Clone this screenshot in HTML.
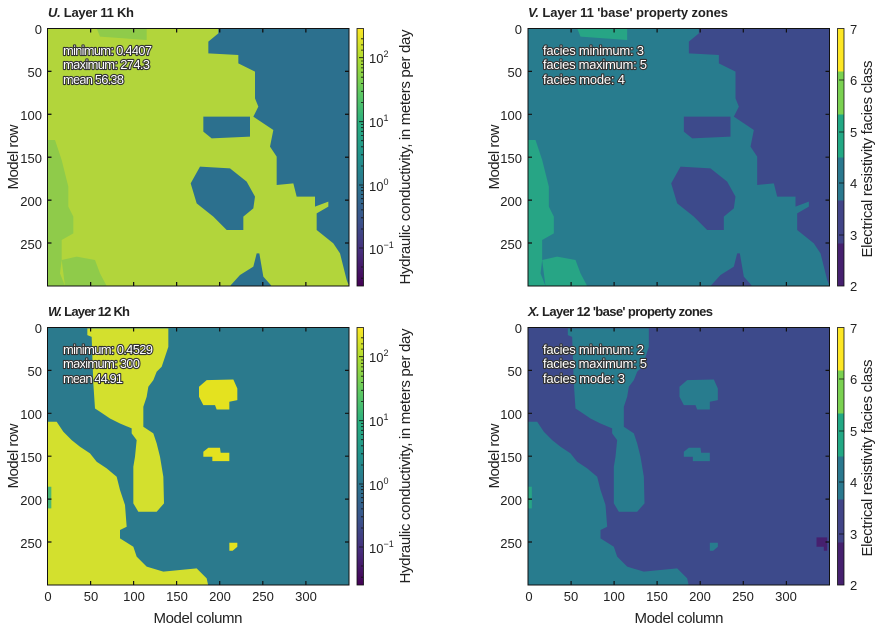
<!DOCTYPE html>
<html><head><meta charset="utf-8"><style>
html,body{margin:0;padding:0;background:#fff;width:887px;height:630px;overflow:hidden}
text{font-family:"Liberation Sans Narrow","Liberation Sans",sans-serif;fill:#222}
.st{font-size:13px;fill:#fff;stroke:#333;stroke-width:2.2px;paint-order:stroke;stroke-linejoin:round}
.tl{font-size:13px}
.ti{font-size:13px;font-weight:bold;font-family:"Liberation Sans",sans-serif}
.ax{font-size:15px}
</style></head><body>
<svg width="887" height="630" viewBox="0 0 887 630" xmlns="http://www.w3.org/2000/svg">
<defs>
<linearGradient id="vir" x1="0" y1="1" x2="0" y2="0">
<stop offset="0" stop-color="#440154"/><stop offset="0.13" stop-color="#472d7b"/><stop offset="0.25" stop-color="#3b528b"/><stop offset="0.38" stop-color="#2c728e"/><stop offset="0.5" stop-color="#21918c"/><stop offset="0.63" stop-color="#28ae80"/><stop offset="0.75" stop-color="#5ec962"/><stop offset="0.88" stop-color="#addc30"/><stop offset="1" stop-color="#fde725"/>
</linearGradient>
<polygon id="a1" points="655,85 1047,85 1047,858 1040,840 1030,800 1020,760 1000,730 950,690 950,640 985,620 985,605 945,620 945,590 890,590 880,550 830,555 830,470 810,440 820,390 760,350 775,320 765,295 765,215 715,190 715,165 625,160 625,125 655,100"/>
<polygon id="a2" points="610,350 750,350 750,410 635,415 610,395"/>
<polygon id="a3" points="600,500 690,505 740,545 765,590 760,625 730,650 730,690 680,690 640,650 590,610 572,550"/>
<polygon id="a4" points="690,858 720,825 760,800 770,760 778,760 790,830 815,858"/>
<polygon id="g1" points="142,420 165,420 185,480 205,560 205,620 220,650 220,700 185,720 185,780 180,820 195,858 142,858"/>
<polygon id="g2" points="185,780 230,770 285,780 300,820 320,858 195,858"/>
<polygon id="g3" points="290,85 440,85 440,120 300,110"/>
<polygon id="b1" points="262,85 505,85 505,140 495,170 485,200 470,215 460,240 445,260 440,290 430,320 430,380 460,400 470,430 480,470 490,530 492,610 470,635 415,635 400,610 400,500 405,470 410,420 395,400 395,385 360,370 330,355 300,335 285,325 280,250 275,110 262,105"/>
<polygon id="b2" points="142,365 170,365 190,395 215,420 240,440 270,460 290,485 320,505 350,530 360,570 375,615 380,680 360,690 360,715 400,740 410,770 440,800 490,815 590,805 620,835 625,858 142,858"/>
<polygon id="b3" points="620,240 700,238 712,265 712,300 688,305 688,328 650,328 645,315 610,315 597,290 597,260"/>
<polygon id="b4" points="625,443 660,443 662,458 688,458 688,483 637,483 637,470 610,470 610,455"/>
<polygon id="b5" points="688,728 712,728 712,740 698,752 688,752"/>
</defs>

<svg x="47.5" y="28.5" width="301.5" height="257.5" viewBox="142.5 85.5 904.5 772.5" preserveAspectRatio="none">
<rect x="0" y="0" width="1200" height="1000" fill="#b2d53b"/>
<use href="#g1" fill="#8fcb4a"/><use href="#g2" fill="#8fcb4a"/><use href="#g3" fill="#8fcb4a"/>
<use href="#a1" fill="#2c708e"/><use href="#a2" fill="#2c708e"/><use href="#a3" fill="#2c708e"/><use href="#a4" fill="#2c708e"/>
</svg>
<svg x="528" y="28.5" width="301.5" height="257.5" viewBox="142.5 85.5 904.5 772.5" preserveAspectRatio="none">
<rect x="0" y="0" width="1200" height="1000" fill="#287c8e"/>
<use href="#g1" fill="#27a585"/><use href="#g2" fill="#27a585"/><use href="#g3" fill="#27a585"/>
<use href="#a1" fill="#3d4a8b"/><use href="#a2" fill="#3d4a8b"/><use href="#a3" fill="#3d4a8b"/><use href="#a4" fill="#3d4a8b"/>
</svg>
<svg x="47.5" y="327.5" width="301.5" height="257.5" viewBox="142.5 82 904.5 773" preserveAspectRatio="none">
<rect x="0" y="0" width="1200" height="1000" fill="#2b7a8d"/>
<use href="#b1" fill="#d3e02e"/><use href="#b2" fill="#d3e02e"/><use href="#b3" fill="#e4e21f"/><use href="#b4" fill="#e4e21f"/><use href="#b5" fill="#e4e21f"/>
<rect x="142" y="560" width="12" height="65" fill="#4bb874"/>
</svg>
<svg x="528" y="327.5" width="301.5" height="257.5" viewBox="142.5 82 904.5 773" preserveAspectRatio="none">
<rect x="0" y="0" width="1200" height="1000" fill="#3d4a8b"/>
<use href="#b1" fill="#287c8e"/><use href="#b2" fill="#287c8e"/><use href="#b3" fill="#287c8e"/><use href="#b4" fill="#287c8e"/><use href="#b5" fill="#287c8e"/>
<rect x="142" y="560" width="12" height="65" fill="#27a585"/>
<polygon points="1008,712 1040,712 1040,752 1030,752 1030,740 1008,740" fill="#46206f"/>
</svg>

<g fill="none" stroke="#111" stroke-width="1">
<rect x="47.5" y="28.5" width="301.5" height="257.5"/>
<rect x="528" y="28.5" width="301.5" height="257.5"/>
<rect x="47.5" y="327.5" width="301.5" height="257.5"/>
<rect x="528" y="327.5" width="301.5" height="257.5"/>
<path id="tk" d="M90.6,28.5v4M133.6,28.5v4M176.6,28.5v4M219.7,28.5v4M262.8,28.5v4M305.9,28.5v4M90.6,286v-4M133.6,286v-4M176.6,286v-4M219.7,286v-4M262.8,286v-4M305.9,286v-4M47.5,71.4h4M47.5,114.3h4M47.5,157.2h4M47.5,200.1h4M47.5,243h4M349,71.4h-4M349,114.3h-4M349,157.2h-4M349,200.1h-4M349,243h-4"/>
</g>
<g stroke="#111" stroke-width="1.2" fill="none">
<use href="#tk" x="0" y="0"/><use href="#tk" x="480.5" y="0"/><use href="#tk" x="0" y="299"/><use href="#tk" x="480.5" y="299"/>
</g>

<rect x="357" y="28.5" width="6.5" height="257.5" fill="url(#vir)" stroke="#111" stroke-width="0.8"/>
<rect x="357" y="327.5" width="6.5" height="257.5" fill="url(#vir)" stroke="#111" stroke-width="0.8"/>
<g stroke="#111" stroke-width="0.8">
<path id="cbt" d="M359,57.7h4.5M359,121.7h4.5M359,185h4.5M359,248h4.5M361,38.8h2.5M361,44.9h2.5M361,50.1h2.5M361,102.5h2.5M361,91.3h2.5M361,83.4h2.5M361,77.2h2.5M361,72.2h2.5M361,67.9h2.5M361,64.3h2.5M361,61h2.5M361,166h2.5M361,154.8h2.5M361,146.8h2.5M361,140.7h2.5M361,135.6h2.5M361,131.3h2.5M361,127.7h2.5M361,124.5h2.5M361,229h2.5M361,217.8h2.5M361,209.9h2.5M361,203.7h2.5M361,198.7h2.5M361,194.4h2.5M361,190.7h2.5M361,187.5h2.5M361,267h2.5M361,278.2h2.5"/>
<use href="#cbt" y="299"/>
</g>
<g id="fcb">
<rect x="837.5" y="28.5" width="6.5" height="43" fill="#fde725"/>
<rect x="837.5" y="71.5" width="6.5" height="43" fill="#7ad151"/>
<rect x="837.5" y="114.5" width="6.5" height="43" fill="#22a884"/>
<rect x="837.5" y="157.5" width="6.5" height="43" fill="#2a788e"/>
<rect x="837.5" y="200.5" width="6.5" height="43" fill="#414487"/>
<rect x="837.5" y="243.5" width="6.5" height="42.5" fill="#46206f"/>
<rect x="837.5" y="28.5" width="6.5" height="257.5" fill="none" stroke="#111" stroke-width="0.8"/>
<path d="M839,80h5M839,132h5M839,183h5M839,235h5" stroke="#111" stroke-width="0.8"/>
</g>
<use href="#fcb" y="299"/>

<text x="48" y="17" class="ti" textLength="86"><tspan font-style="italic">U.</tspan> Layer  11  Kh</text>
<text x="528" y="17" class="ti" textLength="200"><tspan font-style="italic">V.</tspan> Layer  11  'base'  property  zones</text>
<text x="48" y="316" class="ti" textLength="82"><tspan font-style="italic">W.</tspan> Layer 12 Kh</text>
<text x="528" y="316" class="ti" textLength="185"><tspan font-style="italic">X.</tspan> Layer 12  'base' property zones</text>

<text class="st" x="63" y="55" textLength="89">minimum: 0.4407</text>
<text class="st" x="63" y="69" textLength="87">maximum: 274.3</text>
<text class="st" x="63" y="84" textLength="61">mean 56.38</text>
<text class="st" x="543" y="55" textLength="101">facies minimum: 3</text>
<text class="st" x="543" y="69" textLength="104">facies maximum: 5</text>
<text class="st" x="543" y="84" textLength="82">facies mode: 4</text>
<text class="st" x="63" y="354" textLength="90">minimum: 0.4529</text>
<text class="st" x="63" y="368" textLength="77">maximum: 300</text>
<text class="st" x="63" y="383" textLength="60">mean 44.91</text>
<text class="st" x="543" y="354" textLength="101">facies minimum: 2</text>
<text class="st" x="543" y="368" textLength="104">facies maximum: 5</text>
<text class="st" x="543" y="383" textLength="82">facies mode: 3</text>

<g class="tl" text-anchor="end">
<text x="42" y="34">0</text><text x="42" y="77">50</text><text x="42" y="120">100</text><text x="42" y="163">150</text><text x="42" y="206">200</text><text x="42" y="249">250</text>
<text x="42" y="333">0</text><text x="42" y="376">50</text><text x="42" y="419">100</text><text x="42" y="462">150</text><text x="42" y="505">200</text><text x="42" y="548">250</text>
<text x="522" y="34">0</text><text x="522" y="77">50</text><text x="522" y="120">100</text><text x="522" y="163">150</text><text x="522" y="206">200</text><text x="522" y="249">250</text>
<text x="522" y="333">0</text><text x="522" y="376">50</text><text x="522" y="419">100</text><text x="522" y="462">150</text><text x="522" y="505">200</text><text x="522" y="548">250</text>
</g>
<g class="tl" text-anchor="middle">
<text x="48" y="601">0</text><text x="91" y="601">50</text><text x="134" y="601">100</text><text x="177" y="601">150</text><text x="220" y="601">200</text><text x="263" y="601">250</text><text x="306" y="601">300</text>
<text x="529" y="601">0</text><text x="571" y="601">50</text><text x="614" y="601">100</text><text x="657" y="601">150</text><text x="700" y="601">200</text><text x="743" y="601">250</text><text x="786" y="601">300</text>
</g>
<g class="tl">
<text x="369" y="63">10<tspan font-size="9" dy="-6">2</tspan></text>
<text x="369" y="127">10<tspan font-size="9" dy="-6">1</tspan></text>
<text x="369" y="191">10<tspan font-size="9" dy="-6">0</tspan></text>
<text x="369" y="254">10<tspan font-size="9" dy="-6">−1</tspan></text>
<text x="369" y="362">10<tspan font-size="9" dy="-6">2</tspan></text>
<text x="369" y="426">10<tspan font-size="9" dy="-6">1</tspan></text>
<text x="369" y="490">10<tspan font-size="9" dy="-6">0</tspan></text>
<text x="369" y="553">10<tspan font-size="9" dy="-6">−1</tspan></text>
<text x="850" y="34">7</text><text x="850" y="85">6</text><text x="850" y="137">5</text><text x="850" y="188">4</text><text x="850" y="240">3</text><text x="850" y="291">2</text>
<text x="850" y="333">7</text><text x="850" y="384">6</text><text x="850" y="436">5</text><text x="850" y="487">4</text><text x="850" y="539">3</text><text x="850" y="590">2</text>
</g>
<g class="ax" text-anchor="middle">
<text x="198" y="623" textLength="89">Model column</text>
<text x="679" y="623" textLength="89">Model column</text>
<text transform="translate(18,157) rotate(-90)" textLength="65">Model row</text>
<text transform="translate(18,456) rotate(-90)" textLength="65">Model row</text>
<text transform="translate(499,157) rotate(-90)" textLength="65">Model row</text>
<text transform="translate(499,456) rotate(-90)" textLength="65">Model row</text>
<text transform="translate(410,157) rotate(-90)" textLength="255">Hydraulic conductivity, in meters per day</text>
<text transform="translate(410,456) rotate(-90)" textLength="255">Hydraulic conductivity, in meters per day</text>
<text transform="translate(872,159) rotate(-90)" textLength="197">Electrical resistivity facies class</text>
<text transform="translate(872,458) rotate(-90)" textLength="197">Electrical resistivity facies class</text>
</g>
</svg>
</body></html>
